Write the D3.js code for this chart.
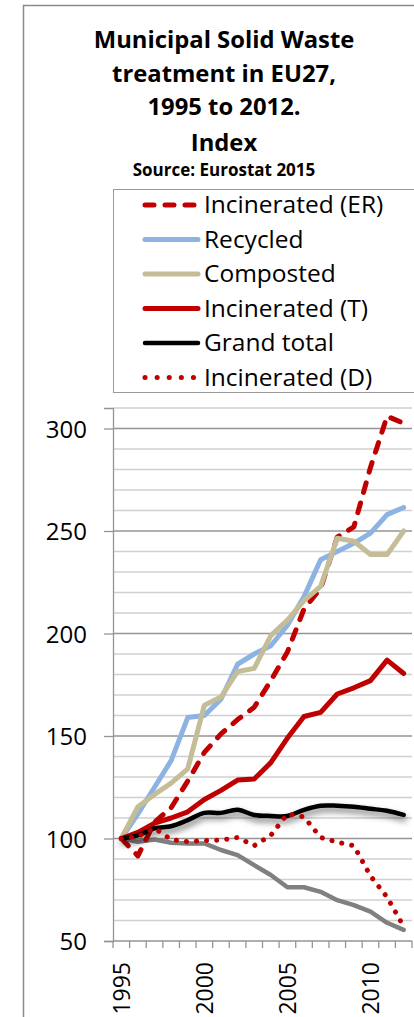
<!DOCTYPE html>
<html>
<head>
<meta charset="utf-8">
<script src="https://cdn.jsdelivr.net/npm/d3@7"></script>
<style>
  html, body { margin: 0; padding: 0; background: #fff; }
  svg { display: block; font-family: "Open Sans", sans-serif; }
</style>
</head>
<body>
<svg id="chart" width="414" height="1017"></svg>
<script>
// ---- DATA ----
const years = [1995,1996,1997,1998,1999,2000,2001,2002,2003,2004,2005,2006,2007,2008,2009,2010,2011,2012];
const incineratedER = [100, 91.5, 108, 115, 128, 142, 151, 158, 164, 177, 191, 212, 222, 247, 252, 281, 306, 302.5];
const recycled      = [100, 112, 125, 138, 159, 160, 168, 185, 190, 194, 204, 218, 236, 240, 244, 249, 258, 261.5];
const composted     = [100, 115.5, 121.5, 127, 134, 165, 169, 181.5, 183, 199, 206.5, 216, 223, 246.5, 245, 238.5, 238.5, 250];
const incineratedT  = [100, 103, 107.5, 110, 113, 119, 123.5, 128.5, 129, 137, 149, 159.5, 161.5, 170.5, 173.5, 177, 187, 180.5];
const grandTotal    = [100, 101.5, 105, 106, 109, 112.5, 112.5, 114, 111.5, 111, 111, 114, 116, 116, 115.5, 114.5, 113.5, 111.5];
const incineratedD  = [100, 101, 105, 99.5, 98.5, 99, 99.2, 100.5, 96.5, 101.5, 112, 110.5, 100.5, 98.2, 96.5, 81.7, 71.4, 57];
const landfilled    = [100, 98.4, 99.5, 97.9, 97.6, 97.6, 94.4, 91.9, 87, 82.2, 76.2, 76.2, 74, 69.9, 67.5, 64.3, 58.9, 55.4];
const yTicks = [50, 100, 150, 200, 250, 300];
const xLabels = [1995, 2000, 2005, 2010];
const titleLines = ["Municipal Solid Waste", "treatment in EU27,", "1995 to 2012.", "Index"];
const sourceText = "Source: Eurostat 2015";

// series: name, values, style, shown in legend
const series = [
  {name: "Landfilled",        values: landfilled,    color: "#808080", width: 4.5, dash: null,     legend: false},
  {name: "Incinerated (ER)",  values: incineratedER, color: "#c00000", width: 5,   dash: "10,11",  legend: true},
  {name: "Recycled",          values: recycled,      color: "#8db3e2", width: 5,   dash: null,     legend: true},
  {name: "Composted",         values: composted,     color: "#c4bd97", width: 5,   dash: null,     legend: true},
  {name: "Incinerated (T)",   values: incineratedT,  color: "#c00000", width: 5,   dash: null,     legend: true},
  {name: "Grand total",       values: grandTotal,    color: "#000000", width: 4.5, dash: null,     legend: true, smooth: true, shadow: true},
  {name: "Incinerated (D)",   values: incineratedD,  color: "#c00000", width: 5,   dash: "0.1,10", legend: true}
];
const legendOrder = ["Incinerated (ER)", "Recycled", "Composted", "Incinerated (T)", "Grand total", "Incinerated (D)"];

// ---- LAYOUT ----
const svg = d3.select("#chart");
const plot = {left: 113, right: 412, top: 408, bottom: 941};

const defs = svg.append("defs");
const f = defs.append("filter").attr("id", "shadow").attr("x", "-10%").attr("y", "-50%").attr("width", "120%").attr("height", "200%");
f.append("feDropShadow").attr("dx", 1).attr("dy", 4).attr("stdDeviation", 3)
  .attr("flood-color", "#000").attr("flood-opacity", 0.55);

// outer frame
svg.append("rect").attr("x", 23.5).attr("y", 5.5).attr("width", 520).attr("height", 1100)
  .attr("fill", "#fff").attr("stroke", "#8a8a8a").attr("stroke-width", 1.5);

// title
const title = svg.append("g").attr("text-anchor", "middle").attr("font-weight", "bold").attr("fill", "#000");
const titleBase = [48, 81.5, 115, 151];
titleLines.forEach((t, i) => {
  title.append("text").attr("x", 224).attr("y", titleBase[i]).attr("font-size", 23.8).text(t);
});
title.append("text").attr("x", 224).attr("y", 176).attr("font-size", 17).text(sourceText);

// legend
svg.append("rect").attr("x", 113.5).attr("y", 189.5).attr("width", 400).attr("height", 203)
  .attr("fill", "#fff").attr("stroke", "#9a9a9a").attr("stroke-width", 1);
const legendY = d3.scalePoint().domain(legendOrder).range([205, 377.5]);
legendOrder.forEach(name => {
  const s = series.find(d => d.name === name);
  const y = legendY(name);
  svg.append("line").attr("x1", 145).attr("x2", 198).attr("y1", y).attr("y2", y)
    .attr("stroke", s.color).attr("stroke-width", s.width)
    .attr("stroke-linecap", "round")
    .attr("stroke-dasharray", s.dash ? (s.dash === "0.1,10" ? "0.1,12" : "9,11") : null);
  svg.append("text").attr("x", 204).attr("y", y + 8.3).attr("font-size", 24.5).attr("fill", "#000").text(name);
});

// scales
const x = d3.scaleBand().domain(years).range([plot.left, plot.right]);
const y = d3.scaleLinear().domain([50, 310]).range([plot.bottom, plot.top]);

// gridlines (minor every 10, major every 50)
const minor = d3.range(60, 311, 10).filter(v => v % 50 !== 0);
svg.append("g").selectAll("line").data(minor).join("line")
  .attr("x1", plot.left).attr("x2", plot.right)
  .attr("y1", d => y(d)).attr("y2", d => y(d))
  .attr("stroke", "#d0d0d0").attr("stroke-width", 1.3);
svg.append("g").selectAll("line").data(yTicks).join("line")
  .attr("x1", plot.left).attr("x2", plot.right)
  .attr("y1", d => y(d)).attr("y2", d => y(d))
  .attr("stroke", "#959595").attr("stroke-width", 1.3);

// y axis
const yAxis = svg.append("g").attr("transform", `translate(${plot.left},0)`)
  .call(d3.axisLeft(y).tickValues(yTicks).tickSize(9).tickPadding(17).tickFormat(d3.format("d")));
yAxis.select(".domain").attr("stroke", "#959595").attr("stroke-width", 1.3);
yAxis.selectAll(".tick line").attr("stroke", "#959595").attr("stroke-width", 1.3);
yAxis.selectAll(".tick text").attr("font-size", 24).attr("font-family", "Open Sans, sans-serif")
  .attr("fill", "#000").attr("dy", "0.36em");

// x axis: ticks at category boundaries
const bounds = years.map(d => x(d)).concat([plot.right]);
svg.append("g").selectAll("line").data(bounds).join("line")
  .attr("x1", d => d).attr("x2", d => d).attr("y1", plot.bottom).attr("y2", plot.bottom + 7)
  .attr("stroke", "#959595").attr("stroke-width", 1.3);
svg.append("g").selectAll("text").data(xLabels).join("text")
  .attr("transform", d => `translate(${x(d) + x.bandwidth() / 2 + 8.5},962) rotate(-90)`)
  .attr("text-anchor", "end").attr("font-size", 23).attr("fill", "#000").text(d => d);

// lines
const cx = d => x(d) + x.bandwidth() / 2;
series.forEach(s => {
  const line = d3.line().x((v, i) => cx(years[i])).y(v => y(v))
    .curve(s.smooth ? d3.curveCardinal.tension(0) : d3.curveLinear);
  svg.append("path").datum(s.values)
    .attr("d", line)
    .attr("fill", "none")
    .attr("stroke", s.color)
    .attr("stroke-width", s.width)
    .attr("stroke-linejoin", "round")
    .attr("stroke-linecap", "round")
    .attr("stroke-dasharray", s.dash)
    .attr("filter", s.shadow ? "url(#shadow)" : null);
});
</script>
</body>
</html>
